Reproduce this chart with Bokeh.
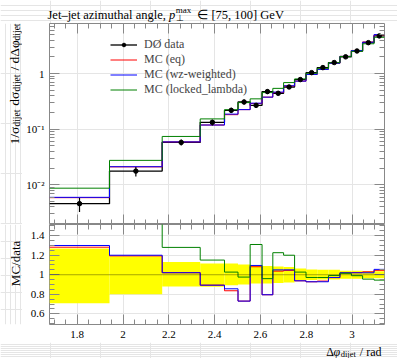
import numpy as np
from bokeh.plotting import figure
from bokeh.models import (Range1d, LinearAxis, LogAxis, FixedTicker, LogTicker,
                          CustomJSTickFormatter, Label, Legend, LegendItem, Span)
from bokeh.layouts import column, row
from bokeh.embed import file_html
from bokeh.resources import INLINE

# ---------------- data ----------------
edges = [1.679, 1.941, 2.171, 2.337, 2.443, 2.502, 2.555, 2.607, 2.654, 2.701,
         2.749, 2.799, 2.848, 2.897, 2.947, 2.997, 3.046, 3.096, 3.1416]
data = [0.00457, 0.0176, 0.0578, 0.133, 0.218, 0.308, 0.268, 0.474, 0.442, 0.574,
        0.78, 1.04, 1.28, 1.58, 2.0, 2.55, 3.6, 4.76]
data_err_up = [0.00123, 0.00334, 0.0075, 0.0154, 0.0253, 0.0323, 0.0268, 0.0427, 0.0376,
               0.0459, 0.0507, 0.0572, 0.064, 0.079, 0.08, 0.102, 0.126, 0.1666]
data_err_dn = [0.00133, 0.00352, 0.00694, 0.0165, 0.0233, 0.0308, 0.0241, 0.0427, 0.0376,
               0.0459, 0.0429, 0.0562, 0.064, 0.079, 0.08, 0.102, 0.126, 0.1666]
mc_eq = [0.00586, 0.0210, 0.0590, 0.1188, 0.1822, 0.2248, 0.2900, 0.3768, 0.4584, 0.5998,
         0.7316, 0.965, 1.197, 1.533, 2.04, 2.606, 3.708, 4.974]
mc_wz = [0.00594, 0.02112, 0.0590, 0.1188, 0.1866, 0.2248, 0.2935, 0.3768, 0.4641, 0.6027,
         0.7316, 0.965, 1.188, 1.536, 2.04, 2.601, 3.672, 5.022]
mc_locked = [0.00868, 0.02746, 0.0740, 0.1530, 0.2239, 0.3006, 0.3511, 0.4550, 0.5419, 0.6888,
             0.8011, 1.011, 1.244, 1.569, 2.03, 2.525, 3.438, 4.498]
x_ticks = [1.8, 2.0, 2.2, 2.4, 2.6, 2.8, 3.0]
ratio_ticks = [0.6, 0.8, 1.0, 1.2, 1.4]
labels = ["DØ data", "MC (eq)", "MC (wz-weighted)", "MC (locked_lambda)"]
colors = ["black", "#ff0000", "#0000ff", "#008000"]

# ---------------- layout constants ----------------
FONT = "Liberation Serif, serif"
TICK = "#888888"
X0, X1 = 1.679, np.pi
LOGTOP, LOGBOT = 0.901, -2.715
R0, R1 = 0.49, 1.515
TOTAL_W = 397
TITLE_H = 23
YLAB_W = 22
FW, FH1, FH2 = 335, 201, 100
ML = 27
MR = TOTAL_W - YLAB_W - ML - FW
QB = 18
XLAB_H = 358 - TITLE_H - FH1 - FH2 - QB

W = {' ': 0.25, '(': 0.333, ')': 0.333, ',': 0.25, '.': 0.25, '/': 0.278, '[': 0.333,
     ']': 0.333, '_': 0.5, '–': 0.5, 'C': 0.667, 'D': 0.722, 'G': 0.722, 'J': 0.389,
     'M': 0.889, 'V': 0.722, 'Ø': 0.722, 'a': 0.444, 'b': 0.5, 'c': 0.444, 'd': 0.5,
     'e': 0.444, 'g': 0.5, 'h': 0.5, 'i': 0.278, 'j': 0.278, 'k': 0.5, 'l': 0.278,
     'm': 0.778, 'n': 0.5, 'o': 0.5, 'p': 0.5, 'r': 0.333, 's': 0.389, 't': 0.278,
     'u': 0.5, 'x': 0.5, 'z': 0.444, 'σ': 0.55, 'Δ': 0.61, 'φ': 0.6, '∈': 0.67, '⊥': 0.67}


def tw(text, size):
    return sum(W.get(c, 0.5) for c in text) * size


def text_fig(w, h):
    f = figure(width=w, height=h, x_range=Range1d(0, w), y_range=Range1d(h, 0),
               x_axis_location=None, y_axis_location=None, min_border=0,
               output_backend="svg", toolbar_location=None)
    f.outline_line_color = None
    f.background_fill_color = "white"
    f.border_fill_color = "white"
    return f


def put_text(fig, left, top, px, py, pieces, angle=0.0, align="left"):
    # pieces: (text, size, dy, style, advance, extra_gap_before); px/py are page pixels
    total = sum(tw(t, s) + g for t, s, dy, st, adv, g in pieces if adv)
    start = {"right": -total, "center": -total / 2}.get(align, 0)
    pos = start
    for t, s, dy, st, adv, g in pieces:
        pos += g
        if angle == 0:
            x, y = px + pos, py + dy
        else:
            x, y = px + dy, py - pos
        fig.add_layout(Label(x=x - left, y=y - top, text=t, text_font=FONT,
                             text_font_size=f"{s}px", text_font_style=st,
                             text_baseline="alphabetic", text_align="left",
                             angle=angle, text_color="black"))
        if adv:
            pos += tw(t, s)
        else:
            pos -= g


def style_axis(ax, show_labels=True, standoff=5):
    ax.axis_line_color = None
    ax.major_tick_in = 10
    ax.major_tick_out = 0
    ax.minor_tick_in = 5
    ax.minor_tick_out = 0
    ax.major_tick_line_color = TICK
    ax.minor_tick_line_color = TICK
    ax.major_label_text_font = FONT
    ax.major_label_text_font_size = "11px"
    ax.major_label_text_color = "black"
    ax.major_label_standoff = standoff
    if not show_labels:
        ax.major_label_text_font_size = "0px"
        ax.major_label_standoff = 0
        ax.formatter = CustomJSTickFormatter(code="return '';")


minor_x = [round(v, 3) for v in np.arange(1.65, 3.16, 0.05)]
minor_r = [round(v, 3) for v in np.arange(0.5, 1.52, 0.05)]


def x_ticker():
    return FixedTicker(ticks=x_ticks, minor_ticks=minor_x)


# ---------------- top panel ----------------
p = figure(frame_width=FW, frame_height=FH1,
           x_range=Range1d(X0, X1), y_range=Range1d(10 ** LOGBOT, 10 ** LOGTOP),
           y_axis_type="log", x_axis_location=None, y_axis_location=None,
           output_backend="svg", toolbar_location=None,
           min_border_left=ML, min_border_right=MR, min_border_top=0, min_border_bottom=0)
p.outline_line_color = TICK
p.outline_line_width = 1
p.background_fill_color = "white"
p.border_fill_color = "white"

log_fmt = CustomJSTickFormatter(code="""
if (Math.abs(tick - 1) < 1e-9) { return "1"; }
const e = Math.round(Math.log10(tick));
const sup = {"-": "\u207b", "0": "\u2070", "1": "\u00b9", "2": "\u00b2", "3": "\u00b3", "4": "\u2074"};
return "10" + String(e).split("").map(c => sup[c]).join("");
""")
ly = LogAxis(ticker=LogTicker(num_minor_ticks=10), formatter=log_fmt)
style_axis(ly)
p.add_layout(ly, "left")
ry = LogAxis(ticker=LogTicker(num_minor_ticks=10))
style_axis(ry, False)
p.add_layout(ry, "right")
tx = LinearAxis(ticker=x_ticker())
style_axis(tx, False)
p.add_layout(tx, "above")
bx = LinearAxis(ticker=x_ticker())
style_axis(bx, False)
p.add_layout(bx, "below")

centers = [(edges[i] + edges[i + 1]) / 2 for i in range(len(data))]


def stepvals(v):
    return list(v) + [v[-1]]


r_data = p.step(edges, stepvals(data), mode="after", line_color="black", line_width=1.3)
r_eq = p.step(edges, stepvals(mc_eq), mode="after", line_color=colors[1], line_width=1)
r_wz = p.step(edges, stepvals(mc_wz), mode="after", line_color=colors[2], line_width=1)
r_lk = p.step(edges, stepvals(mc_locked), mode="after", line_color=colors[3], line_width=1)
lo = [d - e for d, e in zip(data, data_err_dn)]
hi = [d + e for d, e in zip(data, data_err_up)]
p.segment(x0=centers, y0=lo, x1=centers, y1=hi, line_color="black", line_width=1.2)
r_pts = p.scatter(centers, data, size=4.5, color="black")

legend = Legend(items=[LegendItem(label=labels[0], renderers=[r_data, r_pts]),
                       LegendItem(label=labels[1], renderers=[r_eq]),
                       LegendItem(label=labels[2], renderers=[r_wz]),
                       LegendItem(label=labels[3], renderers=[r_lk])])
legend.background_fill_alpha = 0
legend.border_line_color = None
legend.padding = 0
legend.margin = 0
try:
    legend.spacing = -1
except Exception:
    legend.spacing = 0
ROWH = 16
LEG_H = 4 * ROWH + 3 * legend.spacing
LEG_TOP = 44.3 - ROWH / 2 - TITLE_H          # frame-relative top of the legend box
legend.location = (61, int(round(FH1 - LEG_TOP - LEG_H)))
legend.glyph_width = 27
legend.glyph_height = 9
legend.label_height = 14
legend.label_standoff = 7
legend.label_text_font = FONT
legend.label_text_font_size = "12px"
p.add_layout(legend)

# ---------------- ratio panel ----------------
q = figure(frame_width=FW, frame_height=FH2,
           x_range=p.x_range, y_range=Range1d(R0, R1),
           x_axis_location=None, y_axis_location=None,
           output_backend="svg", toolbar_location=None,
           min_border_left=ML, min_border_right=MR, min_border_top=0, min_border_bottom=QB)
q.outline_line_color = TICK
q.outline_line_width = 1
q.background_fill_color = "white"
q.border_fill_color = "white"

num_fmt = CustomJSTickFormatter(code="return String(Math.round(tick * 10) / 10);")
qly = LinearAxis(ticker=FixedTicker(ticks=ratio_ticks, minor_ticks=minor_r), formatter=num_fmt)
style_axis(qly)
q.add_layout(qly, "left")
qry = LinearAxis(ticker=FixedTicker(ticks=ratio_ticks, minor_ticks=minor_r))
style_axis(qry, False)
q.add_layout(qry, "right")
qtx = LinearAxis(ticker=x_ticker())
style_axis(qtx, False)
q.add_layout(qtx, "above")
qbx = LinearAxis(ticker=x_ticker(), formatter=num_fmt)
style_axis(qbx, True, standoff=6)
q.add_layout(qbx, "below")

band_lo = [1 - e / d for d, e in zip(data, data_err_dn)]
band_hi = [1 + e / d for d, e in zip(data, data_err_up)]
q.quad(left=edges[:-1], right=edges[1:], bottom=band_lo, top=band_hi,
       fill_color="#ffff00", line_color=None)
q.add_layout(Span(location=1.0, dimension="width", line_color="black", line_alpha=0.35, line_width=1))
for mc, c in zip([mc_eq, mc_wz, mc_locked], colors[1:]):
    rr = [m / d for m, d in zip(mc, data)]
    q.step(edges, stepvals(rr), mode="after", line_color=c, line_width=1)

# ---------------- text panels ----------------
title_f = text_fig(TOTAL_W, TITLE_H)
put_text(title_f, 0, 0, 47, 14.5, [
    ("Jet–jet azimuthal angle, ", 12.5, 0, "normal", True, 0),
    ("p", 12.5, 0, "italic", True, 0),
    ("⊥", 9, 3, "normal", False, 0.5),
    ("max", 9, -5, "normal", True, 0.5),
    ("∈ [75, 100] GeV", 12.5, 0, "normal", True, 6),
])

ylab1 = text_fig(YLAB_W, FH1)
put_text(ylab1, 0, TITLE_H, 14, 23, [
    ("1/σ", 13.5, 0, "normal", True, 0),
    ("dijet", 9.5, 2.5, "normal", True, 0),
    ("dσ", 13.5, 0, "normal", True, 4),
    ("dijet", 9.5, 2.5, "normal", True, 0),
    ("/ dΔφ", 13.5, 0, "normal", True, 4),
    ("dijet", 9.5, 2.5, "normal", True, 0),
], angle=np.pi / 2, align="right")

ylab2 = text_fig(YLAB_W, FH2 + QB)
put_text(ylab2, 0, TITLE_H + FH1, 15, 274, [("MC/data", 13, 0, "normal", True, 0)],
         angle=np.pi / 2, align="center")

xlab = text_fig(TOTAL_W, XLAB_H)
put_text(xlab, 0, 358 - XLAB_H, 381, 351, [
    ("Δ", 12, 0, "normal", True, 0),
    ("φ", 12, 0, "italic", True, 0),
    ("dijet", 8.5, 2.5, "normal", True, 0),
    ("/ rad", 12, 0, "normal", True, 4),
], align="right")

layout = column(title_f, row(ylab1, p, spacing=0), row(ylab2, q, spacing=0), xlab, spacing=0)
open("out.html", "w").write(file_html(layout, INLINE))
